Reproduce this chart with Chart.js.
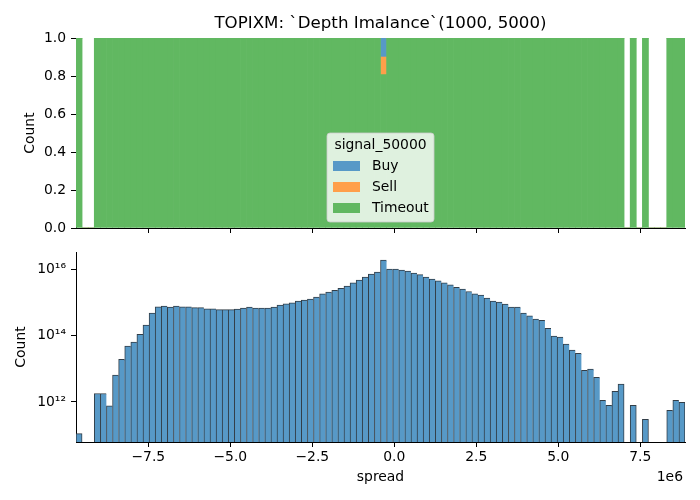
<!DOCTYPE html>
<html>
<head>
<meta charset="utf-8">
<script src="https://cdn.jsdelivr.net/npm/chart.js@4.4.1/dist/chart.umd.min.js"></script>
<style>
  html, body { margin: 0; padding: 0; background: #fff; }
  #wrap { position: relative; width: 700px; height: 500px; }
  #wrap canvas { position: absolute; left: 0; top: 0; }
</style>
</head>
<body>
<div id="wrap">
  <canvas id="fracChart" width="700" height="500"></canvas>
  <canvas id="countChart" width="700" height="500"></canvas>
</div>
<script>
// ---- data ----
const spreadMin = -9.704e6;
const spreadMax = 8.863e6;
const xTicks = [-7.5e6, -5e6, -2.5e6, 0, 2.5e6, 5e6, 7.5e6];
const fracTicks = [0, 0.2, 0.4, 0.6, 0.8, 1.0];
const countTicks = [1e12, 1e14, 1e16];
const countMin = 6.14e10;
const countMax = 3.44e16;

const signalLabels = ["Buy", "Sell", "Timeout"];

// total count per bin (100 bins), null = empty bin
const totalCounts = [
  1.1e11, null, null, 1.8e12, 1.8e12, 7.6e11, 6.5e12, 1.95e13, 4.9e13, 6.5e13,
  1.12e14, 2.1e14, 4.9e14, 7.6e14, 7.9e14, 7.4e14, 7.9e14, 7.6e14, 7.6e14, 7.1e14,
  7.1e14, 6.6e14, 6.6e14, 6.2e14, 6.2e14, 6.2e14, 6.5e14, 6.9e14, 7.4e14, 6.9e14,
  6.9e14, 6.9e14, 7.4e14, 8.5e14, 9.3e14, 1.0e15, 1.12e15, 1.2e15, 1.29e15, 1.48e15,
  1.86e15, 2.1e15, 2.4e15, 2.75e15, 3.2e15, 4.0e15, 4.9e15, 6.0e15, 7.4e15, 8.5e15,
  1.95e16, 1.05e16, 1.05e16, 9.8e15, 9.1e15, 7.9e15, 7.1e15, 6.0e15, 5.2e15, 4.6e15,
  4.0e15, 3.5e15, 2.95e15, 2.6e15, 2.2e15, 1.86e15, 1.7e15, 1.38e15, 1.12e15, 1.05e15,
  9.1e14, 7.4e14, 7.4e14, 4.9e14, 4.0e14, 3.2e14, 2.95e14, 1.7e14, 9.8e13, 9.1e13,
  5.6e13, 3.7e13, 2.95e13, 9.1e12, 9.8e12, 5.6e12, 1.12e12, 7.9e11, 2.1e12, 3.5e12,
  null, 7.9e11, null, 3.0e11, null, null, null, 5.6e11, 1.12e12, 9.8e11
];

// share of each signal per bin (multiple="fill")
const buyShare = [
  0, 0, 0, 0, 0, 0, 0, 0, 0, 0,
  0, 0, 0, 0, 0, 0, 0, 0, 0, 0,
  0, 0, 0, 0, 0, 0, 0, 0, 0, 0,
  0, 0, 0, 0, 0, 0, 0, 0, 0, 0,
  0, 0, 0, 0, 0, 0, 0, 0, 0, 0,
  0.10, 0, 0, 0, 0, 0, 0, 0, 0, 0,
  0, 0, 0, 0, 0, 0, 0, 0, 0, 0,
  0, 0, 0, 0, 0, 0, 0, 0, 0, 0,
  0, 0, 0, 0, 0, 0, 0, 0, 0, 0,
  0, 0, 0, 0, 0, 0, 0, 0, 0, 0
];
const sellShare = [
  0, 0, 0, 0, 0, 0, 0, 0, 0, 0,
  0, 0, 0, 0, 0, 0, 0, 0, 0, 0,
  0, 0, 0, 0, 0, 0, 0, 0, 0, 0,
  0, 0, 0, 0, 0, 0, 0, 0, 0, 0,
  0, 0, 0, 0, 0, 0, 0, 0, 0, 0,
  0.093, 0, 0, 0, 0, 0, 0, 0, 0, 0,
  0, 0, 0, 0, 0, 0, 0, 0, 0, 0,
  0, 0, 0, 0, 0, 0, 0, 0, 0, 0,
  0, 0, 0, 0, 0, 0, 0, 0, 0, 0,
  0, 0, 0, 0, 0, 0, 0, 0, 0, 0
];
const timeoutShare = [
  1, 0, 0, 1, 1, 1, 1, 1, 1, 1,
  1, 1, 1, 1, 1, 1, 1, 1, 1, 1,
  1, 1, 1, 1, 1, 1, 1, 1, 1, 1,
  1, 1, 1, 1, 1, 1, 1, 1, 1, 1,
  1, 1, 1, 1, 1, 1, 1, 1, 1, 1,
  0.807, 1, 1, 1, 1, 1, 1, 1, 1, 1,
  1, 1, 1, 1, 1, 1, 1, 1, 1, 1,
  1, 1, 1, 1, 1, 1, 1, 1, 1, 1,
  1, 1, 1, 1, 1, 1, 1, 1, 1, 1,
  0, 1, 0, 1, 0, 0, 0, 1, 1, 1
];

// ---- styling ----
const FONT = "DejaVu Sans";
const colors = {
  Buy: "rgb(87,153,199)",
  Sell: "rgb(255,159,74)",
  Timeout: "rgb(97,184,97)"
};
const edgeColor = "rgb(50,62,72)";

const binWidth = (spreadMax - spreadMin) / totalCounts.length;
const binCenters = totalCounts.map((_, i) => spreadMin + (i + 0.5) * binWidth);
const toPoints = arr => arr.map((v, i) => ({ x: binCenters[i], y: v }));

const supDigits = { "0": "⁰", "1": "¹", "2": "²", "3": "³", "4": "⁴", "5": "⁵", "6": "⁶", "7": "⁷", "8": "⁸", "9": "⁹" };
function powerLabel(v) {
  const e = String(Math.round(Math.log10(v)));
  return "10" + e.split("").map(d => supDigits[d]).join("");
}
function spreadLabel(v) {
  return (v / 1e6).toFixed(1).replace("-", "\u2212");
}

Chart.defaults.font.family = FONT;
Chart.defaults.color = "#000";
Chart.defaults.animation = false;

// shared x axis; the top one keeps its ticks but hides the labels
function xScale(labelColor, height) {
  return {
    type: "linear",
    min: spreadMin,
    max: spreadMax,
    offset: false,
    afterBuildTicks: s => { s.ticks = xTicks.map(v => ({ value: v })); },
    afterFit: s => { s.height = height; },
    grid: { offset: false, drawOnChartArea: false, drawTicks: true, tickLength: 5, tickColor: "#000" },
    border: { display: true, color: "#000", width: 1 },
    ticks: { padding: 2, color: labelColor, font: { size: 13.9 }, callback: spreadLabel, maxRotation: 0, autoSkip: false }
  };
}

/* legend box with title, lower center of the top axes */
const signalLegend = {
  id: "signalLegend",
  afterDraw(chart) {
    const ctx = chart.ctx;
    const area = chart.chartArea;
    const w = 107, h = 89;
    const left = (area.left + area.right) / 2 - w / 2;
    const top = area.bottom - 6 - h;
    ctx.save();
    ctx.beginPath();
    ctx.roundRect(left, top, w, h, 3);
    ctx.fillStyle = "rgba(255,255,255,0.8)";
    ctx.fill();
    ctx.strokeStyle = "rgba(204,204,204,0.8)";
    ctx.lineWidth = 1;
    ctx.stroke();

    ctx.font = "13.9px '" + FONT + "'";
    ctx.fillStyle = "#000";
    ctx.textBaseline = "middle";
    ctx.textAlign = "center";
    ctx.fillText("signal_50000", left + w / 2, top + 12);
    ctx.textAlign = "left";
    signalLabels.forEach((name, i) => {
      const cy = top + 33 + i * 21;
      ctx.fillStyle = colors[name];
      ctx.fillRect(left + 6, cy - 5, 27, 10);
      ctx.fillStyle = "#000";
      ctx.fillText(name, left + 45, cy);
    });
    ctx.restore();
  }
};

/* the "1e6" offset text under the right end of the x axis */
const offsetText = {
  id: "offsetText",
  afterDraw(chart) {
    const ctx = chart.ctx;
    ctx.save();
    ctx.font = "13.9px '" + FONT + "'";
    ctx.fillStyle = "#000";
    ctx.textAlign = "right";
    ctx.textBaseline = "middle";
    ctx.fillText("1e6", chart.chartArea.right - 2, 477);
    ctx.restore();
  }
};

// ---- top: share of each signal ----
new Chart(document.getElementById("fracChart"), {
  type: "bar",
  data: {
    datasets: [
      { label: "Timeout", data: toPoints(timeoutShare), backgroundColor: colors.Timeout },
      { label: "Sell", data: toPoints(sellShare), backgroundColor: colors.Sell },
      { label: "Buy", data: toPoints(buyShare), backgroundColor: colors.Buy }
    ]
  },
  options: {
    responsive: false,
    devicePixelRatio: 1,
    layout: { padding: { left: 0, right: 15, top: 0, bottom: 262 } },
    datasets: { bar: { barPercentage: 1, categoryPercentage: 1, borderWidth: 0 } },
    plugins: {
      legend: { display: false },
      tooltip: { enabled: false },
      title: {
        display: true,
        fullSize: false,
        text: "TOPIXM: `Depth Imalance`(1000, 5000)",
        color: "#000",
        font: { size: 16.67, weight: "normal", lineHeight: 1.2 },
        padding: { top: 14, bottom: 4 }
      }
    },
    scales: {
      x: Object.assign(xScale("rgba(0,0,0,0)", 10), { stacked: true }),
      y: {
        stacked: true,
        min: 0,
        max: 1,
        afterBuildTicks: s => { s.ticks = fracTicks.map(v => ({ value: v })); },
        afterFit: s => { s.width = 76; },
        grid: { drawOnChartArea: false, drawTicks: true, tickLength: 5, tickColor: "#000" },
        border: { display: true, color: "#000", width: 1 },
        ticks: { padding: 5, font: { size: 13.9 }, callback: v => v.toFixed(1) },
        title: { display: true, text: "Count", font: { size: 13.9 }, padding: { top: 22, bottom: 0 } }
      }
    }
  },
  plugins: [signalLegend]
});

// ---- bottom: total count on a log axis ----
new Chart(document.getElementById("countChart"), {
  type: "bar",
  data: {
    datasets: [{
      label: "count",
      data: toPoints(totalCounts),
      backgroundColor: colors.Buy,
      borderColor: edgeColor,
      borderSkipped: false,
      borderWidth: ctx => {
        const next = totalCounts[ctx.dataIndex + 1];
        return { top: 1, left: 1, right: next == null ? 1 : 0, bottom: 0 };
      }
    }]
  },
  options: {
    responsive: false,
    devicePixelRatio: 1,
    layout: { padding: { left: 0, right: 15, top: 252, bottom: 0 } },
    datasets: { bar: { barPercentage: 1, categoryPercentage: 1 } },
    plugins: { legend: { display: false }, tooltip: { enabled: false } },
    scales: {
      x: Object.assign(xScale("#000", 58), {
        title: { display: true, text: "spread", font: { size: 13.9 }, padding: { top: 0, bottom: 14.6 } }
      }),
      y: {
        type: "logarithmic",
        min: countMin,
        max: countMax,
        afterBuildTicks: s => { s.ticks = countTicks.map(v => ({ value: v })); },
        afterFit: s => { s.width = 76; },
        grid: { drawOnChartArea: false, drawTicks: true, tickLength: 5, tickColor: "#000" },
        border: { display: true, color: "#000", width: 1 },
        ticks: { padding: 5, font: { size: 13.9 }, callback: powerLabel },
        title: { display: true, text: "Count", font: { size: 13.9 }, padding: { top: 13.5, bottom: 0 } }
      }
    }
  },
  plugins: [offsetText]
});
</script>
</body>
</html>
